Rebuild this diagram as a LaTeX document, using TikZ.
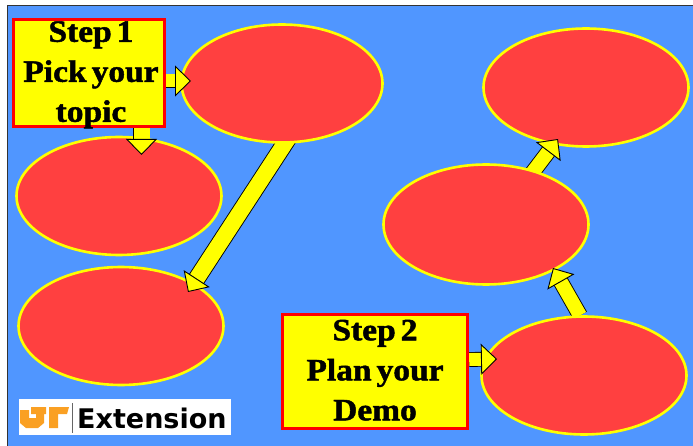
\documentclass[tikz,border=0pt]{standalone}
\usepackage{fontspec}
\newfontfamily\stepfont{Liberation Serif}[UprightFont={* Bold},WordSpace=0.6,FakeStretch=1.08,FakeBold=1.5]
\newfontfamily\logofont{DejaVu Sans}
\usetikzlibrary{arrows.meta,shapes.geometric}
\pgfdeclarelayer{la}\pgfdeclarelayer{lb}\pgfdeclarelayer{lc}\pgfdeclarelayer{ld}\pgfdeclarelayer{le}\pgfdeclarelayer{lf}
\pgfsetlayers{la,lb,lc,ld,le,lf,main}
\definecolor{bluebg}{RGB}{80,150,255}
\definecolor{redfill}{RGB}{255,64,64}
\definecolor{logoorange}{RGB}{250,160,35}
\definecolor{yel}{RGB}{255,255,0}
\definecolor{rd}{RGB}{255,0,0}
\tikzset{
  oval/.style={ellipse,draw=yel,fill=redfill,line width=2.6pt,inner sep=0pt,minimum width=#1},
  oval/.default=205pt,
  stepbox/.style={rectangle,draw=rd,fill=yel,line width=3.4pt,font=\stepfont\fontsize{31}{40}\selectfont,align=center,inner sep=0pt},
  flow/.style={double=yel,draw=black,line width=0.9pt,double distance=#1,
    -{Triangle[open,fill=yel,color=black,line width=0.9pt,length=16pt,width=31pt]}},
  flow/.default=13pt
}
\newcommand{\steptext}[2]{\raisebox{-7pt}[0pt][0pt]{\hspace*{#1}\begin{tabular}{@{}c@{}}#2\end{tabular}}}
\begin{document}
\begin{tikzpicture}[x=1pt,y=-1pt]
\useasboundingbox (0,0) rectangle (693,446);
\begin{pgfonlayer}{la}
\fill[white] (0,0) rectangle (693,446);
\fill[bluebg,draw=black!80,line width=1pt] (7,6) rectangle (700,452);
\node[oval,minimum height=118pt] (e6) at (586,87.5) {};
\node[oval,minimum height=118pt] (e3) at (121,326) {};
\end{pgfonlayer}
\begin{pgfonlayer}{lc}
\node[oval,minimum height=120pt] (e5) at (486,224.5) {};
\node[oval,minimum height=118pt] (e2) at (119,196) {};
\end{pgfonlayer}
\begin{pgfonlayer}{le}
\node[oval,minimum height=118pt] (e4) at (584,375.5) {};
\node[oval=201pt,minimum height=118pt] (e1) at (282,83.5) {};
\end{pgfonlayer}
\node[stepbox,minimum width=151pt,minimum height=107pt] (s1) at (89,73) {\steptext{4pt}{Step 1\\Pick your\\topic}};
\node[stepbox,minimum width=185pt,minimum height=114pt] (s2) at (375,371.5) {\steptext{0pt}{Step 2\\Plan your\\Demo}};
\begin{pgfonlayer}{lb}
\draw[flow=14pt] ([shift={(45,-50)}]e5.center) -- ([shift={(-28,51.5)}]e6.center);
\draw[flow=16pt] ([shift={(7,53.5)}]e1.center) -- ([shift={(67,-34)}]e3.center);
\end{pgfonlayer}
\begin{pgfonlayer}{ld}
\draw[flow=14pt] ([shift={(-4,-60)}]e4.center) -- ([shift={(67,43.5)}]e5.center);
\end{pgfonlayer}
\begin{pgfonlayer}{lf}
\draw[flow] ([shift={(0,8)}]s1.east) -- ([shift={(-91,-2.5)}]e1.center);
\draw[flow=16pt] ([shift={(52.5,0)}]s1.south) -- ([shift={(22.5,-41)}]e2.center);
\draw[flow] ([shift={(0,-12)}]s2.east) -- ([shift={(-87,-16.5)}]e4.center);
\end{pgfonlayer}
\node[fill=white,minimum width=212pt,minimum height=36pt,inner sep=0pt] (logo) at (125,417) {};
\node[anchor=base west,inner sep=0pt,font=\logofont\bfseries\fontsize{27}{27}\selectfont] (ext) at (77,428) {Extension};
\fill[logoorange] (20,410) -- (29,410) -- (29,418) -- (36,418) -- (36,414) -- (31,414) -- (31,407) -- (46,407) -- (46,414) -- (44,414) -- (44,423) -- (38,428) -- (26,428) -- (20,423) -- cycle;
\fill[logoorange] (49,407) -- (69,407) -- (67,414) -- (58,414) -- (58,428) -- (49,428) -- cycle;
\draw[black!60,line width=0.8pt] (72,403) -- (72,433);
\end{tikzpicture}
\end{document}
